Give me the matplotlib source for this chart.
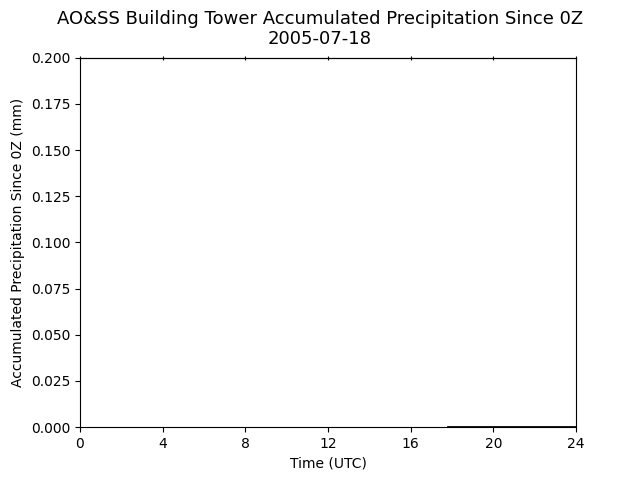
import matplotlib
matplotlib.use("Agg")
import matplotlib.pyplot as plt

hours = [17.8, 18.5, 19.0, 20.0, 21.0, 22.0, 23.0, 24.0]
precip = [0.0, 0.0, 0.0, 0.0, 0.0, 0.0, 0.0, 0.0]
xticks = [0, 4, 8, 12, 16, 20, 24]

fig, ax = plt.subplots(figsize=(6.4, 4.8), dpi=100)
ax.plot(hours, precip, color="black", linewidth=2.0)
ax.set_xlim(0, 24)
ax.set_ylim(0, 0.2)
ax.set_xticks(xticks)
ax.set_xlabel("Time (UTC)")
ax.set_ylabel("Accumulated Precipitation Since 0Z (mm)")
fig.suptitle("AO&SS Building Tower Accumulated Precipitation Since 0Z\n2005-07-18", fontsize=13)
sec = ax.secondary_xaxis("top")
sec.set_xticks(xticks)
sec.tick_params(direction="inout", labeltop=False)
fig.savefig("out.png")
